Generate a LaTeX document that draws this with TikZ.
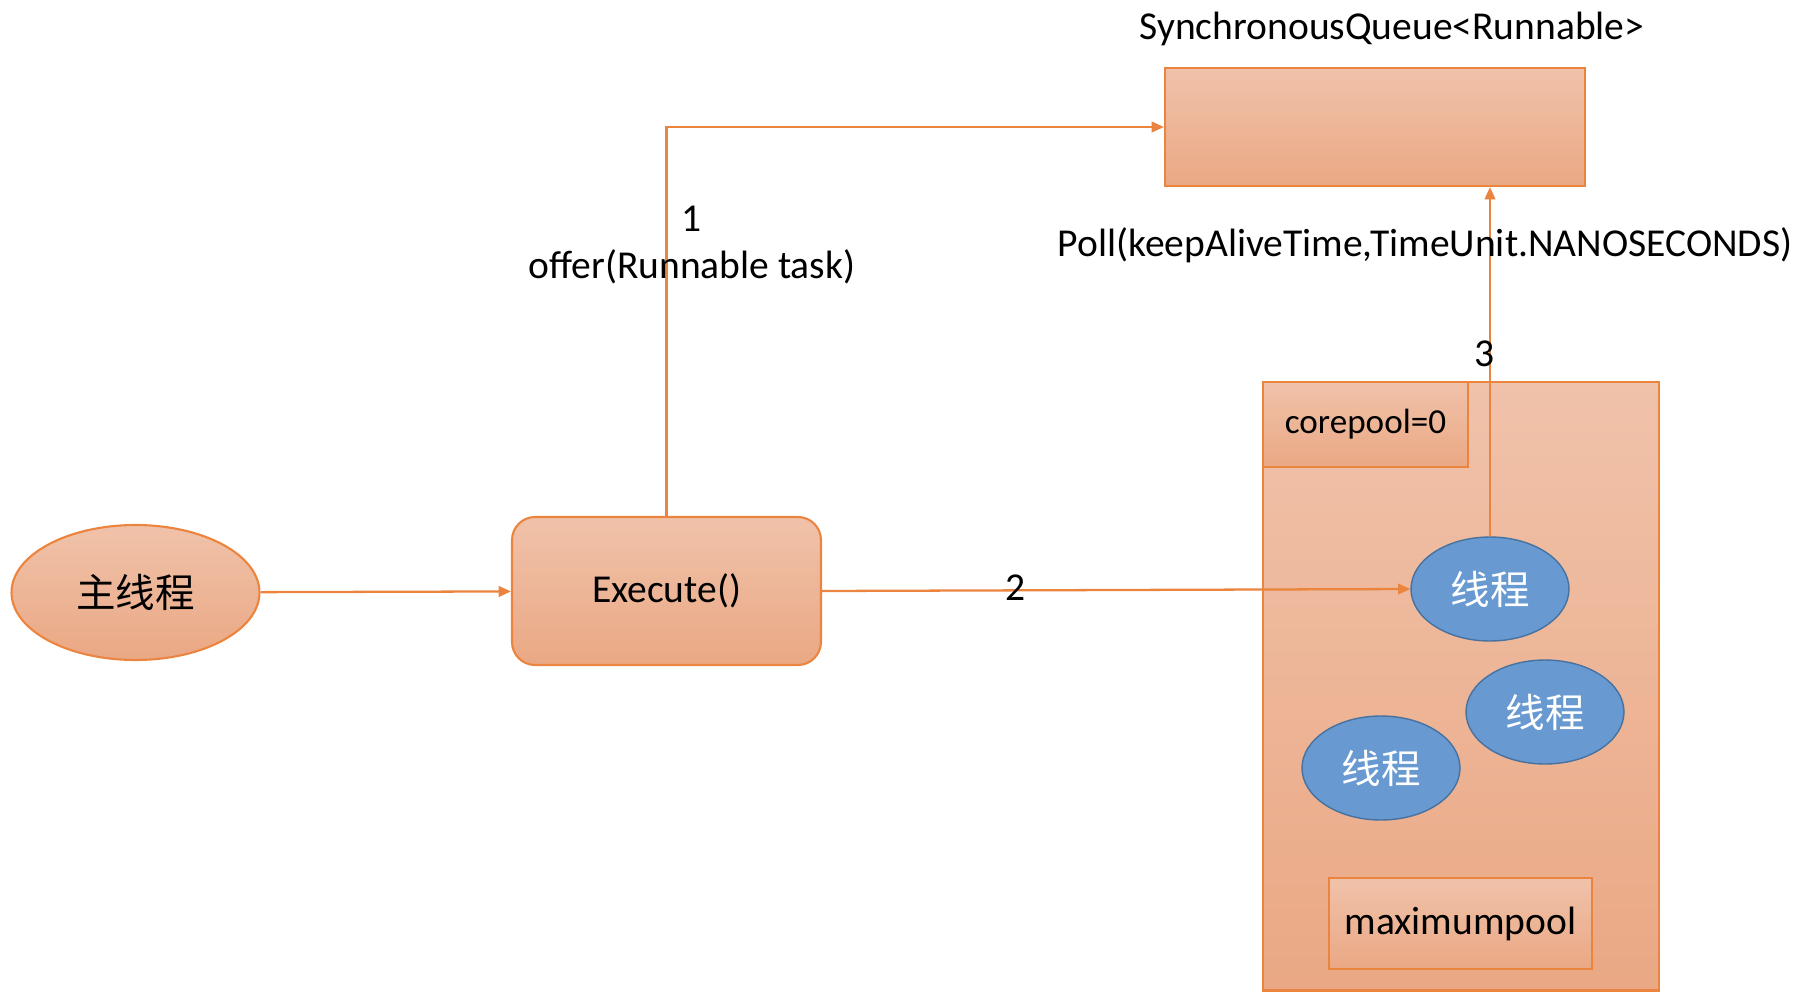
\documentclass[tikz,border=0pt]{standalone}
\usepackage{fontspec}
\setmainfont{Carlito}
\newfontfamily\cjk{Noto Sans CJK SC}
\usepackage{tikz}
\usetikzlibrary{arrows.meta,shapes.geometric}

\definecolor{orline}{RGB}{235,132,62}
\definecolor{ortop}{RGB}{240,194,170}
\definecolor{orbot}{RGB}{234,168,132}
\definecolor{thblue}{RGB}{104,154,209}
\definecolor{thedge}{RGB}{70,114,160}

\tikzset{
  orfill/.style={draw=orline, line width=1.2pt, top color=ortop, bottom color=orbot},
  thread/.style={ellipse, draw=thedge, line width=0.8pt, fill=thblue,
    minimum width=3.16cm, minimum height=2.08cm, text=white, font=\cjk\fontsize{22.5}{26}\selectfont},
  flow/.style={orline, line width=1.3pt, -{Triangle[length=7pt,width=6pt]}},
  lbl/.style={font=\fontsize{22.5}{27}\selectfont, text=black}
}

\begin{document}
\begin{tikzpicture}[x=0.02cm,y=-0.02cm]
    \useasboundingbox (0,0) rectangle (1800,998);
    % queue and pool
    \node[orfill, rectangle, minimum width=8.4cm, minimum height=2.36cm] (queue) at (1375,127) {};
    \node[lbl] (qname) at (1392,29) {SynchronousQueue<Runnable>};
    \node[orfill, rectangle, minimum width=7.92cm, minimum height=12.18cm] (pool) at (1461,686) {};
    \node[orfill, rectangle, minimum width=4.1cm, minimum height=1.7cm, lbl] (core) at (1365.5,424.5) {\fontsize{20}{24}\selectfont corepool=0};
    \node[orfill, rectangle, minimum width=5.26cm, minimum height=1.82cm, lbl] (maxp) at (1460.5,923.5) {\fontsize{22.5}{24}\selectfont maximumpool};
    \node[thread] (t1) at (1490,589) {线程};
    \node[thread] (t2) at (1545,712) {线程};
    \node[thread] (t3) at (1381,768) {线程};
    % main thread and execute
    \node[orfill, ellipse, minimum width=4.96cm, minimum height=2.7cm, font=\cjk\fontsize{22.5}{26}\selectfont] (mainth) at (135.5,592.5) {主线程};
    \node[orfill, rectangle, rounded corners=0.46cm, minimum width=6.18cm, minimum height=2.96cm, lbl] (exe) at (666.5,591) {Execute()};
    % connectors
    \draw[flow] (mainth) -- (exe);
    \draw[flow] (exe.north) |- (queue.west);
    \draw[flow] (exe.east) -- (t1.west);
    \draw[flow] (t1.north) -- (t1.north |- queue.south);
    % labels
    \node[lbl, align=center] (off) at (692,245) {1\\offer(Runnable task)};
    \node[lbl] (lb2) at (1016,588) {2};
    \node[lbl] (poll) at (1425,245) {Poll(keepAliveTime,TimeUnit.NANOSECONDS)};
    \node[lbl] (lb3) at (1485,354) {3};
\end{tikzpicture}
\end{document}
